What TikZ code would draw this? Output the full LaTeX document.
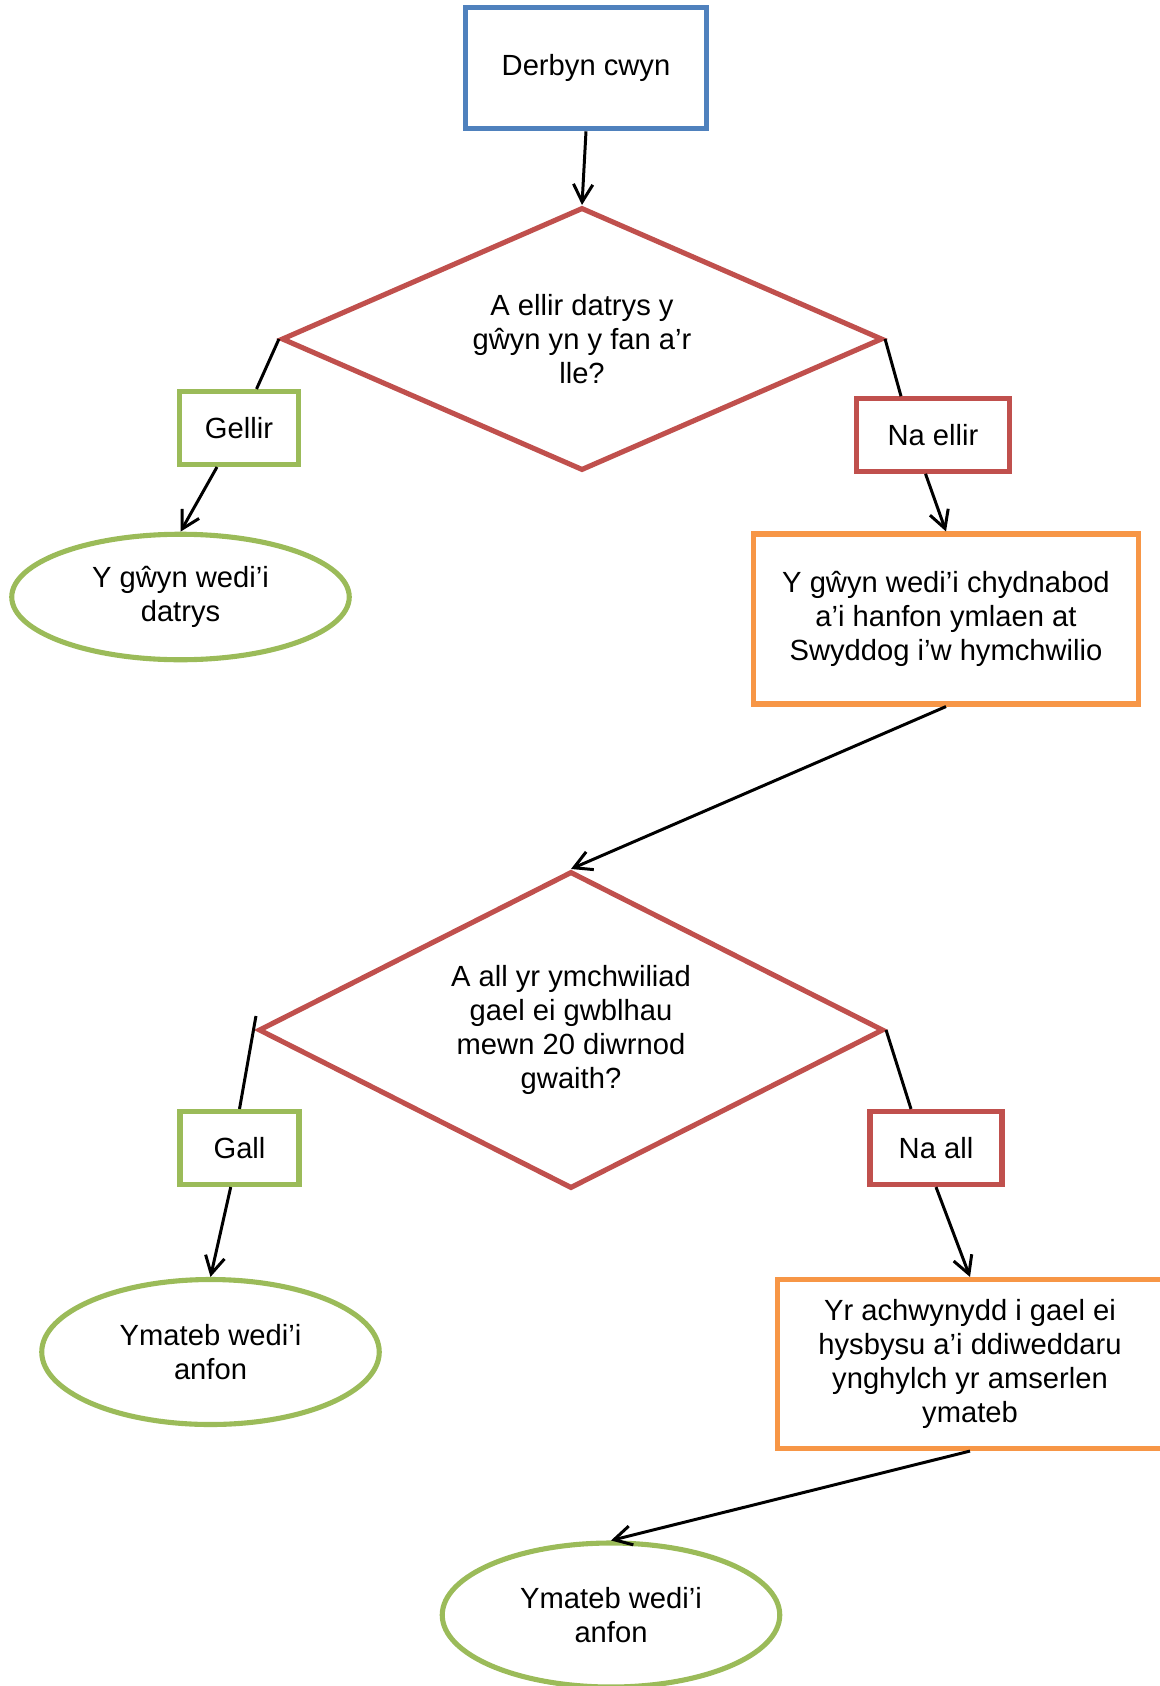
\documentclass[tikz,border=0pt]{standalone}
\usepackage{fontspec}
\setmainfont{Liberation Sans}
\usetikzlibrary{shapes.geometric,arrows.meta}
\definecolor{boxblue}{RGB}{79,129,189}
\definecolor{boxred}{RGB}{192,80,77}
\definecolor{boxgreen}{RGB}{155,187,89}
\definecolor{boxorange}{RGB}{247,150,70}
\begin{document}
\begin{tikzpicture}[
    font=\fontsize{16.6pt}{19.3pt}\selectfont,
    every node/.style={align=center, line width=2.9pt},
    startbox/.style={draw=boxblue, rectangle, minimum width=4.82cm, minimum height=2.43cm},
    question/.style={draw=boxred, diamond, inner sep=0pt},
    yesbox/.style={draw=boxgreen, rectangle, minimum height=1.46cm},
    nobox/.style={draw=boxred, rectangle, minimum height=1.45cm},
    outcome/.style={draw=boxgreen, ellipse, minimum width=6.75cm},
    actbox/.style={draw=boxorange, rectangle, minimum width=7.7cm},
    link/.style={line width=1.7pt, -{Straight Barb[length=10pt,width=11pt]}},
    plain/.style={line width=1.7pt}
  ]
    \useasboundingbox (0,0) rectangle (23.18,-33.72);

    \node[startbox] (recv) at (11.72,-1.36) {Derbyn cwyn};
    \node[question, aspect=2.285, minimum width=12.02cm, minimum height=5.26cm] (canfix) at (11.64,-6.78)
        {A ellir datrys y\\gŵyn yn y fan a’r\\lle?};

    \node[yesbox, minimum width=2.38cm] (yes1) at (4.78,-8.56) {Gellir};
    \node[outcome, minimum height=2.51cm] (solved) at (3.61,-11.94) {Y gŵyn wedi’i\\datrys};

    \node[nobox, minimum width=3.05cm] (no1) at (18.66,-8.70) {Na ellir};
    \node[actbox, minimum height=3.40cm] (ack) at (18.92,-12.38)
        {Y gŵyn wedi’i chydnabod\\a’i hanfon ymlaen at\\Swyddog i’w hymchwilio};

    \node[question, aspect=1.97, minimum width=12.5cm, minimum height=6.34cm] (intime) at (11.42,-20.60)
        {A all yr ymchwiliad\\gael ei gwblhau\\mewn 20 diwrnod\\gwaith?};

    \node[yesbox, minimum width=2.38cm] (yes2) at (4.79,-22.96) {Gall};
    \node[outcome, minimum height=2.90cm] (reply1) at (4.21,-27.04) {Ymateb wedi’i\\anfon};

    \node[nobox, minimum width=2.64cm, minimum height=1.46cm] (no2) at (18.72,-22.96) {Na all};
    \node[actbox, minimum height=3.38cm] (update) at (19.40,-27.28)
        {Yr achwynydd i gael ei\\hysbysu a’i ddiweddaru\\ynghylch yr amserlen\\ymateb};

    \node[outcome, minimum height=2.88cm] (reply2) at (12.22,-32.30) {Ymateb wedi’i\\anfon};

    % connectors
    \draw[link] (recv.south) -- (canfix.north);
    \draw[plain] (canfix.west) -- (yes1);
    \draw[link] (yes1) -- (solved.north);
    \draw[plain] (canfix.east) -- ([xshift=-0.64cm]no1.north);
    \draw[link] ([xshift=-0.15cm]no1.south) -- (ack.north);
    \draw[link] (ack.south) -- (intime.north);
    \draw[plain] ([yshift=0.28cm]intime.west) -- (yes2.north);
    \draw[link] (yes2) -- (reply1.north);
    \draw[plain] (intime.east) -- ([xshift=-0.5cm]no2.north);
    \draw[link] (no2.south) -- (update.north);
    \draw[link] (update.south) -- (reply2.north);
\end{tikzpicture}
\end{document}
